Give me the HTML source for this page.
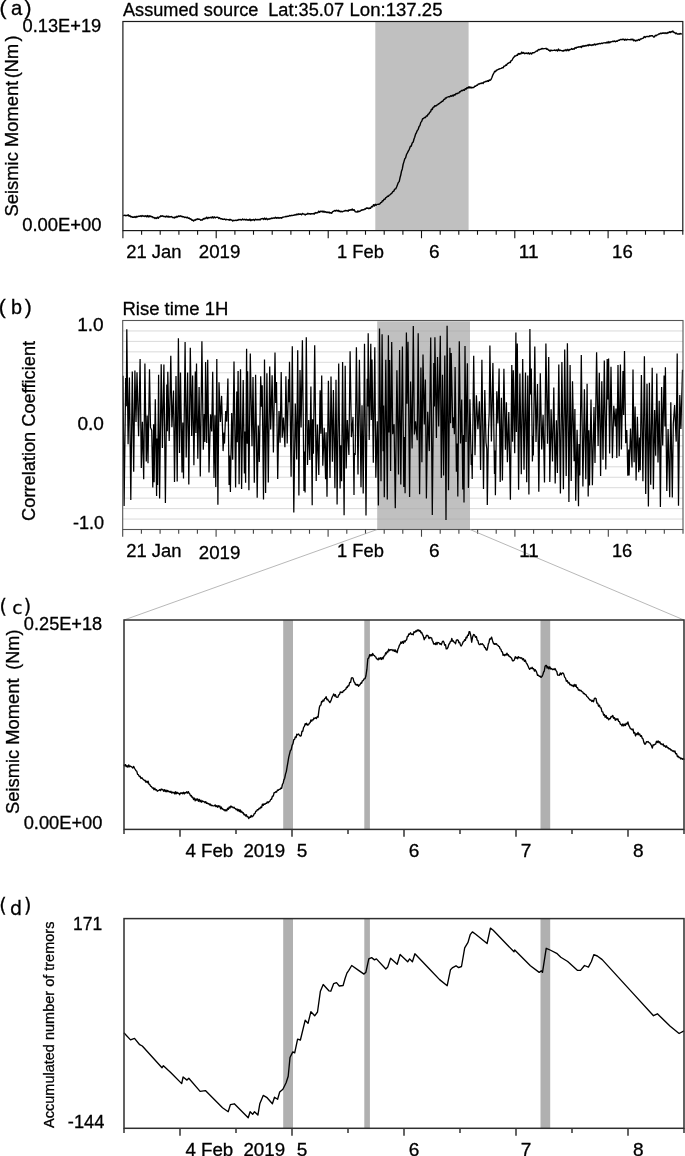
<!DOCTYPE html>
<html><head><meta charset="utf-8"><title>Seismic moment figure</title>
<style>
html,body{margin:0;padding:0;background:#fff;width:685px;height:1156px;overflow:hidden}
svg{display:block}
text{font-family:"Liberation Sans", Arial, sans-serif;fill:#000;stroke:#000;stroke-width:0.3px}
</style></head><body>
<svg width="685" height="1156" viewBox="0 0 685 1156">
<rect x="375.3" y="21.5" width="93.3" height="209.1" fill="#c0c0c0"/>
<path d="M123.1,215.4 L123.9,215.6 L124.8,215.2 L125.6,215.7 L126.5,215.5 L127.3,215.5 L128.2,214.7 L129.0,216.3 L129.9,215.5 L130.8,217.0 L131.6,216.5 L132.5,217.4 L133.3,217.0 L134.2,217.3 L135.0,216.5 L135.9,217.5 L136.8,216.3 L137.7,216.8 L138.5,216.1 L139.4,216.4 L140.3,215.8 L141.2,216.6 L142.1,215.5 L143.0,216.3 L143.9,215.8 L144.8,216.6 L145.7,215.7 L146.6,216.8 L147.4,215.5 L148.2,217.0 L149.1,215.7 L149.9,216.8 L150.7,215.9 L151.5,216.8 L152.4,216.8 L153.2,217.7 L154.1,217.4 L155.0,218.5 L155.8,217.7 L156.7,218.4 L157.5,217.2 L158.4,218.2 L159.2,216.9 L160.1,216.7 L160.9,215.7 L161.8,216.4 L162.7,215.8 L163.6,216.6 L164.5,216.4 L165.4,217.0 L166.3,216.1 L167.2,216.9 L168.1,216.1 L169.0,217.2 L169.9,216.5 L170.7,217.0 L171.6,216.5 L172.5,217.6 L173.3,217.4 L174.2,218.0 L175.0,216.9 L175.9,217.6 L176.8,216.3 L177.6,217.1 L178.5,215.9 L179.3,216.5 L180.2,215.8 L181.1,216.6 L182.0,216.2 L182.9,217.0 L183.8,216.7 L184.7,217.5 L185.6,217.1 L186.5,217.8 L187.4,217.2 L188.3,218.4 L189.2,218.0 L190.1,219.2 L190.9,218.8 L191.8,220.2 L192.7,220.0 L193.6,221.1 L194.4,219.9 L195.3,220.2 L196.1,219.3 L197.0,219.5 L197.8,218.7 L198.7,219.4 L199.7,219.1 L200.7,220.2 L201.7,219.8 L202.5,220.0 L203.3,218.5 L204.2,219.1 L205.0,218.1 L205.8,218.6 L206.7,217.2 L207.7,218.6 L208.6,217.4 L209.5,217.9 L210.4,217.3 L211.4,217.9 L212.3,216.7 L213.2,218.1 L214.1,216.8 L215.1,217.9 L216.0,217.2 L216.9,217.4 L217.8,217.2 L218.7,218.4 L219.5,217.7 L220.4,218.9 L221.3,218.6 L222.2,219.2 L223.1,219.0 L223.9,219.5 L224.8,218.9 L225.7,219.9 L226.6,219.3 L227.4,219.6 L228.3,219.6 L229.2,220.2 L230.0,219.2 L230.9,220.0 L231.8,219.9 L232.7,221.1 L233.5,220.3 L234.4,220.6 L235.3,220.2 L236.2,220.6 L237.1,220.0 L238.0,220.2 L239.0,219.4 L239.9,219.8 L240.8,219.5 L241.7,220.1 L242.6,219.0 L243.5,219.8 L244.4,219.3 L245.3,220.0 L246.2,219.2 L247.2,220.2 L248.1,219.7 L249.0,220.3 L249.9,219.1 L250.8,220.7 L251.7,219.7 L252.6,220.0 L253.6,219.5 L254.5,220.4 L255.4,219.2 L256.3,219.8 L257.2,219.5 L258.2,219.9 L259.1,219.3 L260.0,220.0 L261.1,218.7 L262.0,218.9 L262.9,218.4 L263.8,219.5 L264.6,218.1 L265.5,219.4 L266.4,218.3 L267.3,219.7 L268.2,218.8 L269.1,219.3 L270.0,218.4 L270.9,218.8 L271.8,217.9 L272.7,218.5 L273.6,217.9 L274.5,218.2 L275.4,217.3 L276.3,218.3 L277.2,217.5 L278.1,218.3 L278.9,217.5 L279.8,218.2 L280.7,217.7 L281.6,218.2 L282.5,217.2 L283.3,217.2 L284.2,216.9 L285.1,216.9 L286.0,216.3 L286.8,216.7 L287.7,216.1 L288.6,216.3 L289.6,215.5 L290.5,215.9 L291.4,215.3 L292.3,215.6 L293.3,215.2 L294.2,215.2 L295.1,214.5 L296.0,215.1 L297.0,214.0 L297.9,214.7 L298.8,213.8 L299.7,214.3 L300.6,214.0 L301.5,214.8 L302.5,213.4 L303.4,214.1 L304.3,214.1 L305.2,214.9 L306.1,214.1 L307.0,214.2 L307.9,213.3 L308.8,214.1 L309.7,213.6 L310.7,214.2 L311.6,213.6 L312.5,213.9 L313.4,213.5 L314.3,214.1 L315.2,212.6 L316.1,213.1 L317.0,212.6 L317.9,212.7 L318.7,211.2 L319.6,212.3 L320.5,211.2 L321.4,211.6 L322.2,211.1 L323.0,212.2 L323.9,211.1 L324.7,212.2 L325.5,211.7 L326.4,212.5 L327.2,211.9 L328.1,212.7 L329.0,211.9 L329.9,213.2 L330.7,212.6 L331.6,213.3 L332.6,211.6 L333.7,211.3 L334.7,210.4 L335.6,211.1 L336.4,210.2 L337.3,211.1 L338.2,210.3 L339.1,211.6 L339.9,210.9 L340.8,211.9 L341.7,211.3 L342.6,211.8 L343.5,211.1 L344.4,211.0 L345.4,210.5 L346.3,210.8 L347.2,210.5 L348.1,211.2 L349.0,209.8 L349.8,210.4 L350.6,209.7 L351.5,210.0 L352.3,209.0 L353.1,210.3 L354.1,209.7 L355.2,211.7 L356.2,211.9 L357.1,212.2 L357.9,210.9 L358.8,211.8 L359.6,211.1 L360.4,211.1 L361.3,210.0 L362.1,210.2 L363.0,209.7 L363.9,209.8 L364.7,208.9 L365.5,209.2 L366.4,207.9 L367.2,208.3 L368.0,207.9 L368.9,208.7 L369.7,208.0 L370.5,208.3 L371.5,206.5 L372.5,206.9 L373.5,204.7 L374.4,205.9 L375.2,204.3 L376.1,205.3 L376.9,204.4 L377.8,204.4 L378.6,204.2 L379.6,204.1 L380.7,202.7 L381.6,202.3 L382.4,200.8 L383.2,200.8 L384.1,199.2 L384.9,199.3 L385.8,197.7 L386.6,197.4 L387.5,196.1 L388.4,196.3 L389.2,195.2 L390.0,194.9 L390.9,193.9 L391.9,193.1 L392.8,191.7 L393.8,191.1 L394.7,189.1 L395.7,188.9 L396.6,187.0 L397.4,184.9 L398.3,182.6 L399.2,181.6 L400.0,177.8 L400.7,175.3 L401.5,171.2 L402.3,168.9 L403.1,164.5 L403.9,161.9 L404.8,158.8 L405.6,157.9 L406.5,154.5 L407.4,152.9 L408.4,150.9 L409.3,149.3 L410.3,146.5 L411.3,146.0 L412.2,143.0 L413.2,142.0 L414.0,139.0 L414.7,137.3 L415.5,134.4 L416.4,132.6 L417.3,130.5 L418.2,129.3 L419.1,126.5 L419.9,125.6 L420.8,122.4 L421.7,121.4 L422.6,118.7 L423.5,118.6 L424.4,117.4 L425.4,117.6 L426.3,116.0 L427.2,116.1 L428.0,114.4 L428.9,113.8 L429.7,112.3 L430.6,111.7 L431.4,109.3 L432.3,109.5 L433.1,107.3 L434.0,107.0 L434.9,105.6 L435.9,106.0 L436.8,105.2 L437.7,104.6 L438.6,103.9 L439.4,103.5 L440.3,102.7 L441.2,102.2 L442.1,101.2 L442.9,101.2 L443.8,99.5 L444.7,99.3 L445.5,97.9 L446.3,98.1 L447.1,97.1 L448.0,96.9 L448.9,96.6 L449.7,96.9 L450.6,95.8 L451.5,96.2 L452.4,95.2 L453.2,96.1 L454.1,94.5 L455.0,95.1 L456.0,93.5 L456.9,93.9 L457.8,93.1 L458.8,93.1 L459.7,91.7 L460.6,91.7 L461.5,90.4 L462.5,90.7 L463.4,89.8 L464.3,90.3 L465.3,88.6 L466.2,89.0 L467.2,87.5 L468.1,88.1 L469.0,86.7 L470.0,88.0 L470.9,87.0 L471.9,88.0 L472.8,87.4 L473.7,87.6 L474.7,86.3 L475.6,86.2 L476.6,85.2 L477.5,85.2 L478.4,83.9 L479.4,84.1 L480.3,83.3 L481.2,83.6 L482.1,82.8 L483.1,83.5 L484.0,81.9 L484.9,82.1 L485.9,81.2 L486.8,81.6 L487.6,80.7 L488.5,81.3 L489.3,79.9 L490.2,80.3 L491.0,79.5 L491.9,77.5 L492.9,74.8 L493.8,73.1 L494.7,71.3 L495.6,71.7 L496.4,70.2 L497.3,70.0 L498.3,69.4 L499.2,69.0 L500.2,68.6 L501.2,68.4 L502.1,67.7 L503.1,67.9 L504.0,66.2 L504.9,66.1 L505.8,65.0 L506.6,65.2 L507.5,63.5 L508.4,63.3 L509.3,62.4 L510.2,62.6 L511.1,60.6 L512.0,60.3 L513.0,58.2 L513.9,57.3 L514.8,55.9 L515.7,56.1 L516.5,55.1 L517.4,55.4 L518.3,53.6 L519.2,54.2 L520.0,53.4 L520.9,53.9 L521.8,52.1 L522.7,53.2 L523.5,52.5 L524.4,53.7 L525.3,53.1 L526.1,53.5 L527.0,52.9 L527.9,53.8 L528.7,52.8 L529.6,54.1 L530.6,53.1 L531.6,54.1 L532.5,52.7 L533.5,52.8 L534.5,52.5 L535.5,51.8 L536.4,50.9 L537.4,51.1 L538.3,49.5 L539.3,49.8 L540.3,49.2 L541.2,49.0 L542.2,48.5 L543.1,48.9 L544.1,48.6 L545.0,48.6 L546.0,48.3 L546.8,49.3 L547.6,49.0 L548.5,50.2 L549.3,50.3 L550.1,51.2 L551.0,50.0 L552.0,50.7 L552.9,50.4 L553.8,50.4 L554.8,50.0 L555.7,50.6 L556.6,49.9 L557.6,50.9 L558.5,49.1 L559.4,50.6 L560.3,50.1 L561.2,50.6 L562.1,50.7 L563.0,51.2 L564.0,50.2 L564.9,50.7 L565.9,49.6 L566.8,50.7 L567.8,49.3 L568.7,50.7 L569.7,49.5 L570.6,49.6 L571.5,48.6 L572.4,49.4 L573.3,48.8 L574.2,49.2 L575.1,47.6 L576.0,48.2 L576.9,47.1 L577.8,47.3 L578.7,46.8 L579.5,47.0 L580.4,46.5 L581.3,47.4 L582.2,45.9 L583.0,46.6 L583.9,45.6 L584.8,46.3 L585.7,45.5 L586.5,45.9 L587.4,45.0 L588.3,45.7 L589.1,44.4 L590.0,45.3 L590.9,44.8 L591.8,45.5 L592.6,44.8 L593.5,45.0 L594.4,44.1 L595.3,44.9 L596.1,44.1 L597.0,44.5 L597.9,43.7 L598.8,44.0 L599.7,43.4 L600.6,43.8 L601.6,43.1 L602.5,43.5 L603.4,42.9 L604.3,42.9 L605.2,42.6 L606.1,43.1 L607.1,42.1 L608.0,43.0 L608.9,41.6 L609.8,42.7 L610.8,41.8 L611.7,41.9 L612.6,41.2 L613.5,41.5 L614.5,41.0 L615.4,41.8 L616.3,41.0 L617.3,41.2 L618.3,40.2 L619.2,40.4 L620.2,39.4 L621.2,39.7 L622.1,39.3 L623.0,39.5 L623.9,39.2 L624.8,40.3 L625.7,39.3 L626.6,40.1 L627.5,39.3 L628.4,39.6 L629.3,39.6 L630.2,39.8 L631.1,39.2 L632.0,39.8 L632.9,39.2 L633.8,40.8 L634.7,39.9 L635.6,41.1 L636.6,40.3 L637.5,40.5 L638.5,39.5 L639.4,40.3 L640.4,39.0 L641.4,39.0 L642.3,38.4 L643.3,38.1 L644.2,36.6 L645.2,37.5 L646.1,36.5 L647.0,36.6 L647.9,36.3 L648.9,36.7 L649.8,35.8 L650.7,36.0 L651.6,35.7 L652.5,35.8 L653.7,37.1 L654.5,36.9 L655.3,35.3 L656.1,35.7 L657.0,34.9 L657.8,34.9 L658.7,33.9 L659.5,34.1 L660.4,33.2 L661.2,33.7 L662.1,33.0 L663.1,33.4 L664.0,32.7 L665.0,33.6 L665.9,32.7 L666.9,33.6 L667.8,32.5 L668.6,32.7 L669.5,31.8 L670.3,32.6 L671.2,31.5 L672.0,32.1 L672.9,31.0 L673.8,32.5 L674.7,32.5 L675.6,33.7 L676.5,33.1 L677.4,34.1 L678.3,33.8 L679.1,34.2 L680.0,33.4 L680.9,34.0 L681.8,33.7" fill="none" stroke="#000" stroke-width="1.4" stroke-linejoin="round"/>
<rect x="122.9" y="21.5" width="559.9" height="209.1" fill="none" stroke="#1a1a1a" stroke-width="1.2"/>
<path d="M122.9,230.6v7.6M141.6,230.6v4.2M160.2,230.6v4.2M178.9,230.6v4.2M197.6,230.6v4.2M216.2,230.6v7.6M234.9,230.6v4.2M253.5,230.6v4.2M272.2,230.6v4.2M290.9,230.6v4.2M309.5,230.6v4.2M328.2,230.6v7.6M346.9,230.6v4.2M365.5,230.6v4.2M384.2,230.6v4.2M402.9,230.6v4.2M421.5,230.6v7.6M440.2,230.6v4.2M458.8,230.6v4.2M477.5,230.6v4.2M496.2,230.6v4.2M514.8,230.6v7.6M533.5,230.6v4.2M552.2,230.6v4.2M570.8,230.6v4.2M589.5,230.6v4.2M608.1,230.6v7.6M626.8,230.6v4.2M645.5,230.6v4.2M664.1,230.6v4.2M682.8,230.6v4.2" stroke="#111" stroke-width="1.1" fill="none"/>
<rect x="377.2" y="321.3" width="92.8" height="208.2" fill="#c0c0c0"/>
<path d="M122.7,330.95H683.0M122.7,341.40H683.0M122.7,351.85H683.0M122.7,362.30H683.0M122.7,372.75H683.0M122.7,383.20H683.0M122.7,393.65H683.0M122.7,404.10H683.0M122.7,414.55H683.0M122.7,425.00H683.0M122.7,435.45H683.0M122.7,445.90H683.0M122.7,456.35H683.0M122.7,466.80H683.0M122.7,477.25H683.0M122.7,487.70H683.0M122.7,498.15H683.0M122.7,508.60H683.0M122.7,519.05H683.0" stroke="#a8a8a8" stroke-opacity="0.42" stroke-width="1" fill="none"/>
<path d="M123.0,375.7 L124.1,506.1 L125.7,378.0 L126.3,406.3 L126.8,329.3 L128.1,444.2 L129.4,377.6 L130.8,500.0 L132.3,371.4 L133.7,471.8 L134.9,370.6 L136.0,421.9 L137.0,372.3 L138.6,436.2 L140.1,359.1 L141.3,468.1 L142.4,421.7 L143.7,479.2 L144.9,363.5 L146.3,461.6 L147.2,415.6 L148.0,463.3 L149.5,369.2 L150.5,427.4 L151.7,430.2 L152.8,487.4 L153.6,424.3 L154.1,482.2 L155.3,399.2 L156.6,496.0 L157.0,438.4 L157.6,485.0 L158.6,374.7 L159.6,498.4 L161.2,364.3 L162.4,448.0 L163.9,364.5 L165.4,503.0 L166.8,384.6 L167.3,431.3 L167.8,371.7 L169.2,441.1 L170.8,355.7 L171.9,427.2 L173.5,390.5 L174.5,482.1 L176.0,375.9 L177.2,481.6 L178.4,338.2 L179.5,452.9 L180.5,372.6 L182.0,472.5 L182.8,422.4 L183.5,478.5 L185.1,341.9 L186.2,457.4 L187.6,372.6 L188.8,484.5 L190.3,347.8 L191.7,435.9 L192.6,375.4 L193.9,465.3 L195.3,371.4 L195.9,432.9 L196.5,363.5 L197.8,458.7 L199.1,387.0 L200.3,476.6 L201.9,341.2 L203.3,449.8 L204.3,414.1 L204.9,442.1 L205.6,362.1 L206.7,442.9 L207.7,359.7 L209.0,472.5 L210.5,414.4 L211.7,431.4 L212.7,371.8 L214.0,478.1 L214.9,415.2 L215.8,487.0 L216.8,359.0 L217.9,504.8 L219.0,382.2 L220.4,421.9 L221.6,395.9 L223.1,451.1 L224.0,432.6 L224.5,443.6 L225.7,411.0 L226.7,421.6 L227.9,378.6 L229.1,485.1 L229.6,455.5 L230.4,492.1 L231.7,412.9 L232.7,459.7 L234.0,361.6 L235.6,487.4 L236.8,391.6 L237.3,442.2 L238.1,371.0 L239.1,484.2 L240.5,369.2 L241.6,489.1 L243.2,380.1 L244.4,473.5 L244.9,431.5 L245.6,482.8 L246.6,348.8 L247.2,443.7 L247.6,371.2 L248.9,490.3 L250.3,353.5 L252.0,446.3 L253.0,376.9 L254.3,482.7 L255.6,374.8 L257.2,497.7 L258.3,425.4 L259.3,462.1 L260.7,376.2 L261.5,406.8 L262.2,385.2 L263.5,499.4 L264.5,359.6 L265.6,493.0 L266.9,373.3 L268.3,482.6 L269.7,366.5 L270.7,429.6 L272.1,375.2 L273.4,452.5 L275.0,352.4 L275.7,403.1 L276.5,382.0 L277.7,478.9 L279.0,411.1 L280.1,442.8 L281.2,371.9 L282.2,437.8 L283.4,417.6 L284.9,447.2 L285.9,376.3 L287.2,443.4 L288.5,379.2 L289.0,402.3 L289.5,361.7 L291.1,476.7 L292.3,346.2 L293.8,512.5 L295.3,403.4 L296.7,459.5 L297.7,350.3 L298.9,495.6 L300.0,369.9 L301.1,427.4 L302.4,340.2 L304.0,491.1 L304.6,451.6 L305.1,492.6 L306.3,337.2 L307.5,464.9 L308.7,420.1 L309.8,459.9 L310.9,386.6 L312.2,505.2 L312.6,419.3 L313.4,453.8 L314.7,345.2 L316.2,481.0 L317.4,424.6 L318.8,474.9 L320.1,390.3 L320.9,433.7 L321.7,375.4 L322.8,465.7 L324.2,427.7 L325.6,479.3 L326.1,432.3 L327.0,496.8 L328.4,380.7 L330.0,478.0 L331.0,376.6 L332.4,461.7 L333.4,389.9 L334.9,488.3 L336.0,379.7 L337.1,504.5 L338.7,363.6 L340.1,488.6 L340.7,445.2 L341.6,481.2 L342.6,362.0 L344.1,515.3 L345.2,365.7 L346.2,468.4 L347.3,420.0 L348.9,455.0 L350.1,351.2 L351.4,437.1 L353.0,416.9 L354.0,495.0 L354.4,453.1 L355.2,454.9 L356.4,347.2 L358.0,474.6 L359.4,359.7 L361.0,487.2 L362.0,405.2 L363.2,493.6 L364.5,343.7 L366.0,515.5 L367.2,378.7 L367.7,406.6 L368.2,333.3 L369.2,440.0 L370.8,343.7 L371.3,419.9 L372.0,359.6 L373.3,462.7 L374.8,347.2 L375.8,477.7 L377.3,421.2 L378.4,505.6 L379.5,328.6 L381.0,481.2 L382.1,334.2 L383.1,451.3 L383.6,405.5 L384.3,497.2 L385.8,359.8 L387.3,499.4 L388.4,335.3 L388.9,432.6 L389.6,360.0 L390.6,471.0 L391.7,342.1 L392.7,434.2 L394.1,424.2 L395.3,508.2 L396.9,370.2 L398.5,474.6 L399.6,350.0 L400.8,484.4 L402.4,346.5 L403.8,486.9 L404.5,437.0 L405.1,493.3 L406.4,332.4 L407.1,403.8 L408.0,341.7 L409.6,497.1 L410.6,381.5 L412.1,448.5 L413.3,326.0 L414.4,434.4 L415.6,421.2 L417.2,440.3 L418.2,333.3 L419.6,494.2 L420.9,367.5 L421.9,462.2 L423.0,354.6 L424.3,424.5 L425.4,379.4 L426.4,498.5 L427.7,411.8 L429.3,451.1 L430.7,337.4 L432.3,515.1 L433.8,362.9 L434.4,406.4 L434.9,337.2 L436.4,438.1 L437.5,357.1 L438.7,426.4 L440.3,335.7 L441.3,477.9 L442.5,374.8 L443.6,475.4 L444.8,355.4 L446.0,520.0 L447.1,325.7 L448.5,490.2 L449.9,347.8 L450.6,423.3 L451.2,353.1 L452.8,428.1 L453.8,417.2 L454.4,434.2 L455.1,367.0 L456.4,471.7 L457.3,443.6 L457.8,496.6 L459.3,341.2 L460.5,443.4 L461.7,399.6 L462.8,489.6 L463.5,435.1 L464.0,502.5 L465.0,346.0 L466.0,442.0 L467.4,363.3 L468.4,487.9 L469.9,399.3 L471.2,465.1 L471.7,454.3 L472.2,479.1 L473.7,355.7 L475.0,455.3 L476.4,395.2 L477.9,429.3 L479.4,401.3 L480.6,470.1 L481.9,359.7 L483.5,488.9 L484.8,389.9 L486.0,442.5 L486.8,448.8 L487.3,504.9 L488.5,429.2 L489.2,412.8 L489.9,345.6 L491.4,441.4 L492.9,362.9 L494.5,474.1 L495.0,450.5 L495.4,495.2 L496.8,391.3 L497.9,423.4 L499.1,368.4 L500.2,481.9 L501.4,397.7 L502.4,480.6 L503.9,368.8 L505.4,449.8 L506.4,402.3 L507.4,462.2 L508.8,412.1 L510.4,499.8 L511.8,365.0 L512.5,441.7 L513.3,370.3 L514.7,453.2 L515.9,332.4 L516.4,432.1 L517.3,343.5 L518.6,489.8 L519.9,373.6 L521.3,474.3 L522.7,358.9 L524.0,469.7 L525.5,372.6 L526.7,482.3 L527.8,375.5 L528.9,494.6 L529.9,329.1 L530.5,394.5 L531.3,368.5 L532.4,461.6 L532.9,436.1 L533.3,455.5 L534.8,346.6 L536.0,441.9 L537.5,384.0 L538.8,491.8 L540.3,373.2 L541.7,449.4 L543.1,414.9 L544.5,482.5 L545.9,343.5 L547.5,443.7 L548.7,357.1 L549.8,482.0 L551.1,409.2 L552.5,461.4 L553.8,387.6 L555.2,483.4 L556.4,420.2 L557.4,473.1 L558.8,364.4 L560.4,493.6 L561.9,361.9 L563.4,489.2 L564.7,349.4 L566.2,476.1 L567.4,343.2 L568.9,501.9 L570.1,365.0 L571.2,480.9 L572.5,381.2 L574.1,461.2 L574.9,409.0 L575.7,500.7 L577.1,429.8 L578.5,506.2 L579.0,444.1 L579.8,475.4 L581.3,355.1 L582.9,486.6 L584.4,389.3 L585.8,479.2 L587.1,383.7 L588.2,496.4 L588.8,430.3 L589.5,485.6 L591.0,399.5 L592.4,485.3 L594.0,406.9 L595.0,462.9 L596.6,352.3 L598.1,446.0 L599.3,372.8 L600.6,476.1 L601.8,381.2 L603.0,459.8 L604.3,360.4 L605.8,469.4 L607.2,358.9 L607.9,399.6 L608.6,358.4 L609.6,453.5 L611.0,366.8 L612.4,458.2 L613.8,405.8 L615.3,426.4 L616.0,408.6 L616.8,458.1 L618.0,365.1 L619.2,456.2 L620.4,364.5 L621.4,449.4 L623.0,371.0 L623.6,415.0 L624.5,351.0 L625.7,443.3 L626.8,430.1 L627.8,475.7 L628.7,449.6 L629.1,475.6 L630.5,428.4 L632.0,467.5 L633.0,369.4 L634.1,462.3 L635.1,406.4 L636.1,480.5 L637.4,416.8 L638.7,472.3 L639.5,437.4 L640.2,470.3 L641.4,375.1 L642.9,481.2 L644.4,356.2 L645.7,493.9 L647.0,383.8 L648.4,506.6 L649.4,382.8 L650.7,484.8 L652.2,367.7 L653.4,489.3 L654.6,410.0 L655.7,455.7 L656.8,373.6 L658.0,462.6 L659.2,400.7 L660.4,507.0 L661.6,386.9 L662.7,445.4 L664.1,375.6 L665.0,426.4 L665.4,367.2 L666.8,491.0 L668.1,429.0 L669.7,497.2 L670.8,402.2 L672.3,497.6 L673.3,423.6 L673.8,416.8 L674.6,405.0 L676.2,441.6 L677.2,353.4 L678.5,505.8 L679.8,394.9 L680.9,429.1 L682.5,369.8" fill="none" stroke="#000" stroke-width="1.25" stroke-linejoin="miter" stroke-miterlimit="2"/>
<rect x="122.7" y="320.5" width="560.3" height="209.0" fill="none" stroke="#555" stroke-width="1.1"/>
<path d="M122.7,529.5v7.3M141.4,529.5v4.2M160.1,529.5v4.2M178.7,529.5v4.2M197.4,529.5v4.2M216.1,529.5v7.3M234.8,529.5v4.2M253.4,529.5v4.2M272.1,529.5v4.2M290.8,529.5v4.2M309.5,529.5v4.2M328.1,529.5v7.3M346.8,529.5v4.2M365.5,529.5v4.2M384.2,529.5v4.2M402.8,529.5v4.2M421.5,529.5v7.3M440.2,529.5v4.2M458.9,529.5v4.2M477.6,529.5v4.2M496.2,529.5v4.2M514.9,529.5v7.3M533.6,529.5v4.2M552.3,529.5v4.2M570.9,529.5v4.2M589.6,529.5v4.2M608.3,529.5v7.3M627.0,529.5v4.2M645.6,529.5v4.2M664.3,529.5v4.2M683.0,529.5v4.2" stroke="#444" stroke-width="1.1" fill="none"/>
<path d="M377.2,529.5 L124,620 M470,529.5 L684,620" stroke="#999" stroke-width="0.7" fill="none"/>
<rect x="283.2" y="620.0" width="9.8" height="209.4" fill="#b0b0b0"/>
<rect x="364.3" y="620.0" width="5.6" height="209.4" fill="#b0b0b0"/>
<rect x="540.5" y="620.0" width="9.7" height="209.4" fill="#b0b0b0"/>
<path d="M123.9,764.7 L124.7,765.9 L125.5,764.6 L126.3,766.7 L127.1,765.7 L127.9,767.2 L128.7,764.9 L129.6,766.8 L130.4,766.1 L131.2,766.7 L132.0,767.1 L132.8,768.0 L133.7,766.4 L134.5,768.3 L135.3,769.5 L136.1,770.8 L136.8,771.3 L137.6,774.4 L138.4,774.7 L139.3,776.5 L140.1,776.3 L141.0,778.5 L141.9,777.7 L142.7,779.0 L143.6,779.6 L144.4,780.5 L145.1,780.3 L145.9,782.2 L146.6,781.3 L147.4,782.7 L148.1,781.1 L148.9,784.2 L149.8,784.6 L150.6,786.2 L151.5,786.7 L152.3,788.0 L153.2,787.8 L154.0,789.7 L154.8,788.2 L155.6,790.0 L156.4,789.6 L157.3,791.2 L158.1,790.7 L158.9,790.2 L159.7,789.6 L160.4,790.6 L161.2,789.0 L162.0,789.7 L162.8,789.5 L163.6,791.2 L164.4,789.7 L165.2,791.6 L166.0,790.0 L166.8,791.8 L167.7,790.5 L168.5,791.6 L169.3,791.4 L170.1,792.4 L170.9,791.3 L171.7,793.1 L172.5,792.1 L173.3,792.9 L174.1,792.2 L174.9,794.1 L175.7,791.6 L176.4,793.7 L177.2,792.4 L178.0,793.4 L178.8,793.2 L179.6,794.7 L180.4,792.9 L181.2,793.4 L182.0,792.7 L182.8,793.8 L183.6,792.3 L184.4,793.9 L185.1,792.5 L185.9,793.0 L186.7,791.8 L187.5,793.1 L188.3,791.6 L189.1,793.3 L189.8,794.0 L190.6,795.9 L191.3,795.5 L192.1,797.5 L192.8,797.2 L193.6,799.5 L194.4,798.1 L195.2,800.8 L196.0,798.9 L196.8,800.2 L197.6,798.9 L198.4,801.3 L199.3,799.4 L200.1,801.8 L200.9,800.2 L201.7,802.2 L202.5,800.9 L203.3,801.5 L204.1,801.6 L204.9,802.7 L205.7,801.6 L206.5,803.4 L207.3,803.0 L208.1,803.9 L208.8,803.5 L209.6,804.9 L210.4,804.1 L211.2,805.6 L212.0,805.3 L212.8,805.8 L213.6,805.8 L214.3,805.9 L215.1,804.9 L215.9,806.6 L216.7,805.8 L217.5,807.2 L218.2,805.6 L219.0,806.8 L219.8,806.0 L220.6,808.7 L221.3,807.0 L222.1,809.1 L222.8,808.8 L223.6,810.0 L224.3,809.6 L225.1,811.0 L225.9,809.7 L226.8,810.7 L227.6,808.3 L228.4,809.2 L229.2,807.0 L230.0,808.0 L230.9,806.0 L231.7,807.0 L232.5,807.0 L233.2,807.9 L234.0,807.2 L234.8,808.3 L235.5,808.6 L236.3,809.8 L237.1,808.9 L237.8,810.9 L238.6,809.5 L239.4,811.5 L240.1,809.8 L240.9,812.2 L241.7,811.3 L242.5,813.0 L243.2,812.6 L244.0,814.9 L244.8,814.3 L245.6,816.0 L246.4,814.8 L247.1,816.7 L247.9,816.6 L248.7,818.6 L249.5,817.1 L250.3,817.4 L251.1,815.4 L251.9,816.9 L252.7,816.1 L253.5,815.6 L254.3,813.6 L255.0,813.6 L255.8,811.1 L256.6,811.1 L257.4,809.7 L258.2,809.8 L259.1,808.3 L259.9,808.7 L260.7,807.0 L261.6,807.6 L262.4,804.2 L263.2,805.4 L264.0,803.8 L264.9,804.4 L265.7,803.4 L266.5,803.3 L267.3,801.9 L268.1,802.7 L269.0,801.7 L269.8,801.3 L270.7,799.5 L271.5,799.2 L272.4,796.2 L273.3,796.1 L274.1,792.6 L275.0,792.5 L275.8,791.7 L276.6,792.1 L277.5,790.0 L278.3,790.4 L279.1,789.4 L280.0,789.3 L280.8,788.0 L281.6,788.5 L282.4,784.5 L283.2,783.0 L283.9,779.9 L284.7,778.2 L285.5,774.1 L286.3,771.6 L287.1,766.9 L287.9,762.4 L288.7,757.4 L289.5,754.2 L290.4,750.5 L291.2,749.7 L292.1,745.4 L293.0,743.6 L293.8,739.7 L294.6,739.4 L295.3,737.0 L296.1,737.5 L296.8,734.2 L297.6,734.7 L298.5,733.9 L299.5,735.5 L300.4,736.1 L301.2,735.6 L302.0,731.2 L302.8,731.2 L303.6,727.4 L304.4,726.4 L305.2,723.6 L305.9,724.7 L306.6,723.3 L307.3,725.1 L308.0,725.0 L308.7,724.4 L309.4,723.2 L310.2,722.5 L310.9,719.9 L311.7,721.1 L312.4,719.8 L313.2,719.9 L313.9,718.0 L314.7,718.6 L315.6,717.6 L316.4,718.6 L317.2,716.7 L318.1,717.2 L318.8,711.3 L319.4,707.3 L320.1,705.4 L320.9,705.2 L321.6,701.5 L322.3,701.9 L323.1,700.0 L323.8,701.1 L324.6,698.6 L325.3,698.4 L326.1,696.7 L326.9,699.6 L327.6,699.1 L328.4,700.8 L329.1,701.3 L329.9,702.6 L330.7,701.2 L331.4,699.4 L332.2,697.0 L332.9,695.7 L333.7,693.9 L334.6,696.1 L335.4,694.7 L336.2,696.9 L337.1,697.3 L337.9,697.2 L338.7,694.9 L339.5,694.6 L340.3,691.9 L341.1,692.6 L341.9,692.2 L342.6,692.5 L343.4,690.7 L344.2,690.7 L345.0,689.7 L345.8,689.2 L346.5,687.2 L347.3,687.5 L348.0,685.7 L348.8,685.9 L349.7,682.5 L350.6,682.4 L351.4,678.2 L352.3,677.7 L353.1,678.3 L353.9,681.7 L354.7,682.5 L355.5,684.7 L356.3,684.4 L357.0,685.3 L357.8,684.4 L358.5,686.3 L359.3,685.1 L360.1,684.6 L360.8,682.9 L361.6,683.2 L362.3,681.0 L363.1,680.7 L364.0,679.0 L365.0,678.7 L365.9,676.0 L366.9,669.2 L367.8,659.0 L368.8,657.8 L369.7,654.6 L370.5,655.9 L371.2,654.5 L372.0,655.8 L372.7,653.5 L373.5,655.1 L374.3,655.5 L375.0,656.4 L375.8,657.1 L376.5,658.7 L377.3,659.0 L378.1,659.9 L378.9,658.0 L379.7,659.1 L380.6,657.7 L381.4,659.5 L382.2,657.5 L383.0,659.0 L383.9,656.3 L384.9,655.4 L385.7,652.8 L386.4,653.9 L387.2,651.5 L387.9,652.0 L388.7,649.2 L389.5,650.7 L390.3,649.7 L391.1,650.0 L392.0,649.5 L392.8,650.7 L393.6,649.9 L394.4,651.3 L395.1,649.8 L395.8,651.8 L396.5,651.1 L397.2,652.7 L397.9,649.2 L398.6,647.8 L399.4,645.2 L400.1,644.4 L400.9,642.0 L401.7,643.3 L402.5,641.5 L403.4,643.3 L404.2,640.8 L405.0,641.9 L405.8,640.3 L406.6,639.9 L407.3,636.5 L408.1,636.3 L408.8,634.0 L409.6,634.4 L410.5,632.8 L411.5,634.5 L412.4,634.0 L413.2,634.7 L414.0,631.8 L414.9,632.4 L415.7,630.9 L416.5,631.5 L417.2,629.9 L418.0,630.9 L418.7,629.9 L419.5,631.2 L420.2,630.6 L420.9,632.8 L421.6,632.3 L422.3,634.2 L423.2,635.8 L424.2,639.7 L424.9,637.6 L425.6,637.9 L426.4,635.5 L427.1,635.3 L428.1,635.9 L429.0,638.6 L429.9,637.3 L430.9,637.9 L431.6,638.0 L432.3,640.5 L433.0,641.7 L433.7,644.0 L434.5,643.6 L435.3,644.5 L436.1,642.4 L436.9,644.5 L437.7,642.5 L438.5,642.6 L439.2,643.0 L439.9,644.2 L440.6,643.6 L441.3,644.7 L442.2,642.1 L443.2,641.1 L444.0,642.3 L444.7,645.2 L445.5,644.6 L446.2,648.8 L447.0,648.8 L447.9,647.5 L448.9,644.1 L449.6,643.6 L450.4,641.4 L451.1,641.4 L451.8,638.5 L452.5,641.0 L453.3,640.8 L454.0,642.2 L454.8,642.5 L455.5,643.8 L456.4,640.2 L457.4,639.8 L458.2,640.3 L458.9,642.7 L459.7,642.5 L460.4,644.9 L461.2,646.0 L462.1,644.5 L463.1,641.9 L463.9,641.4 L464.6,639.7 L465.4,640.3 L466.1,637.1 L466.9,637.8 L467.6,635.2 L468.4,635.4 L469.1,631.7 L469.8,631.6 L470.8,635.9 L471.7,642.2 L472.6,637.0 L473.6,634.5 L474.5,634.9 L475.5,637.3 L476.4,636.6 L477.1,640.0 L477.9,640.6 L478.6,643.6 L479.3,644.5 L480.1,644.6 L480.8,643.7 L481.6,644.3 L482.3,643.7 L483.1,644.8 L483.9,645.5 L484.6,647.5 L485.4,647.7 L486.1,649.7 L486.9,650.2 L487.6,648.0 L488.3,644.1 L489.0,642.4 L489.7,639.0 L490.6,639.1 L491.6,637.1 L492.6,640.9 L493.5,643.4 L494.3,644.4 L495.0,643.5 L495.8,644.3 L496.5,643.7 L497.3,645.2 L498.0,645.3 L498.7,646.4 L499.4,646.7 L500.1,648.8 L500.9,649.3 L501.6,651.6 L502.4,651.9 L503.1,655.3 L503.9,654.5 L504.7,655.7 L505.4,654.4 L506.2,655.1 L506.9,653.1 L507.7,655.1 L508.4,654.8 L509.1,656.5 L509.9,656.5 L510.6,657.4 L511.5,658.0 L512.5,660.7 L513.4,660.7 L514.3,659.9 L515.3,656.7 L516.1,658.2 L516.8,657.3 L517.6,658.8 L518.3,656.6 L519.1,657.8 L520.0,657.4 L520.9,658.2 L521.7,657.8 L522.6,659.7 L523.5,658.7 L524.4,661.3 L525.2,660.1 L526.1,662.6 L527.0,663.9 L527.9,665.8 L528.8,667.8 L529.7,669.3 L530.5,668.0 L531.4,668.5 L532.1,667.3 L532.9,668.9 L533.6,668.6 L534.4,671.1 L535.1,669.6 L535.8,670.6 L536.6,672.1 L537.5,675.3 L538.4,675.1 L539.3,676.5 L540.1,676.1 L541.0,677.4 L541.9,676.6 L542.8,674.8 L543.6,672.0 L544.3,671.0 L545.1,666.2 L545.8,665.5 L546.5,665.4 L547.1,668.0 L548.0,666.7 L548.9,668.9 L549.8,666.8 L550.7,669.1 L551.5,668.4 L552.4,669.6 L553.3,669.0 L554.2,669.7 L555.0,668.5 L555.9,670.4 L556.8,671.7 L557.6,675.1 L558.5,675.1 L559.4,675.3 L560.3,673.0 L561.2,674.7 L562.0,673.1 L562.9,672.9 L563.8,674.1 L564.6,677.1 L565.5,678.1 L566.4,681.2 L567.3,680.6 L568.1,683.0 L569.0,682.4 L569.9,684.8 L570.8,684.5 L571.6,685.5 L572.5,685.3 L573.4,686.6 L574.2,684.5 L575.1,686.4 L575.9,684.6 L576.7,687.6 L577.6,687.7 L578.4,690.0 L579.2,689.8 L580.1,690.8 L580.9,690.3 L581.8,691.7 L582.6,691.8 L583.5,693.6 L584.3,693.4 L585.2,694.6 L586.0,694.7 L586.8,696.5 L587.6,697.0 L588.5,698.2 L589.3,699.1 L590.1,700.2 L591.0,700.0 L591.8,701.5 L592.6,700.4 L593.5,701.8 L594.4,698.3 L595.2,698.1 L596.0,698.5 L596.9,703.1 L597.7,703.2 L598.5,706.2 L599.4,705.2 L600.2,707.6 L601.1,707.9 L601.9,711.6 L602.8,711.8 L603.6,715.2 L604.4,714.4 L605.2,717.3 L606.1,715.6 L606.9,718.4 L607.7,717.7 L608.6,719.8 L609.4,718.7 L610.2,718.8 L611.1,716.5 L611.9,716.8 L612.8,715.5 L613.6,718.2 L614.5,717.7 L615.3,720.3 L616.1,718.8 L617.0,719.8 L617.8,718.8 L618.6,721.3 L619.5,721.6 L620.4,724.2 L621.2,724.5 L622.0,725.9 L622.9,723.9 L623.7,725.9 L624.6,724.2 L625.4,725.5 L626.2,723.3 L627.1,724.1 L627.9,722.0 L628.7,725.2 L629.6,726.8 L630.4,728.7 L631.3,729.0 L632.1,729.9 L633.0,728.9 L633.8,733.0 L634.7,732.5 L635.5,735.9 L636.3,733.8 L637.2,734.6 L638.0,732.4 L638.8,734.8 L639.7,733.9 L640.5,736.4 L641.4,735.6 L642.2,738.3 L643.0,738.9 L643.9,742.4 L644.7,744.1 L645.5,744.0 L646.4,741.7 L647.2,742.0 L648.0,741.5 L648.9,742.6 L649.7,742.8 L650.6,744.2 L651.4,745.5 L652.3,748.1 L653.1,744.8 L654.0,745.1 L654.8,744.3 L655.6,744.2 L656.5,741.3 L657.3,742.5 L658.1,740.9 L659.0,742.8 L659.8,741.7 L660.7,744.0 L661.5,743.8 L662.3,744.8 L663.2,743.9 L664.0,746.2 L664.9,745.8 L665.7,747.2 L666.5,745.9 L667.4,747.8 L668.2,747.6 L669.0,749.0 L669.9,748.5 L670.7,750.0 L671.5,749.8 L672.4,751.0 L673.2,750.8 L674.1,751.7 L674.9,751.0 L675.7,753.7 L676.6,753.7 L677.4,756.7 L678.2,756.1 L679.1,757.7 L680.0,757.5 L680.8,759.0 L681.6,758.3 L682.5,759.2 L683.4,758.4 L684.2,759.8" fill="none" stroke="#000" stroke-width="1.35" stroke-linejoin="round"/>
<rect x="124.0" y="620.0" width="560.0" height="209.4" fill="none" stroke="#2e2e2e" stroke-width="1.5"/>
<path d="M124.0,829.4v4.6M180.0,829.4v7.4M236.0,829.4v4.6M292.0,829.4v7.4M348.0,829.4v4.6M404.0,829.4v7.4M460.0,829.4v4.6M516.0,829.4v7.4M572.0,829.4v4.6M628.0,829.4v7.4M684.0,829.4v4.6" stroke="#333" stroke-width="1.5" fill="none"/>
<rect x="283.2" y="918.6" width="9.8" height="209.7" fill="#b0b0b0"/>
<rect x="364.3" y="918.6" width="5.6" height="209.7" fill="#b0b0b0"/>
<rect x="540.5" y="918.6" width="9.7" height="209.7" fill="#b0b0b0"/>
<path d="M123.9,1032.8 L130.5,1039.9 L134.5,1038.4 L139.7,1044.7 L142.3,1046.0 L162.0,1067.8 L163.4,1065.7 L171.2,1073.0 L181.7,1083.6 L183.1,1077.0 L187.0,1080.1 L188.8,1078.3 L200.1,1091.4 L205.4,1090.6 L222.5,1107.7 L228.2,1111.7 L230.4,1104.6 L234.3,1103.8 L248.2,1117.7 L250.1,1111.7 L252.7,1114.3 L254.5,1111.7 L257.9,1115.1 L259.8,1103.8 L263.2,1095.4 L267.1,1097.7 L272.4,1103.8 L274.5,1097.2 L277.6,1099.3 L279.7,1092.0 L282.9,1089.3 L286.1,1082.8 L288.2,1076.2 L290.0,1057.5 L292.8,1051.9 L294.7,1052.9 L297.6,1039.2 L300.4,1040.0 L305.2,1020.2 L308.0,1023.4 L310.9,1011.7 L314.7,1015.8 L317.5,1012.0 L320.4,991.2 L323.2,984.5 L328.9,990.8 L330.8,991.2 L333.7,983.6 L336.5,982.6 L339.3,986.0 L343.1,985.5 L345.0,978.8 L346.9,973.1 L348.8,970.3 L351.7,965.5 L359.3,970.9 L364.0,974.1 L365.9,972.2 L368.8,958.9 L371.6,957.6 L374.5,959.9 L376.4,958.9 L385.8,969.0 L387.7,967.1 L390.6,958.3 L397.2,964.2 L400.1,954.5 L407.7,961.8 L409.6,958.9 L412.4,961.8 L414.9,953.8 L429.7,969.3 L439.6,979.6 L447.2,985.7 L450.5,969.7 L452.7,967.6 L456.0,965.8 L458.6,967.6 L461.5,966.5 L464.7,947.8 L468.0,942.4 L470.2,934.7 L472.4,931.9 L475.7,934.3 L487.1,943.5 L490.4,928.1 L493.2,930.3 L514.0,951.8 L514.7,950.0 L530.4,965.8 L539.2,972.4 L541.4,970.8 L542.5,972.4 L546.2,948.3 L550.1,950.0 L556.7,953.3 L560.8,957.2 L567.7,961.5 L577.6,970.4 L580.5,970.4 L584.5,965.5 L588.4,967.1 L591.4,961.5 L593.8,954.6 L597.3,956.0 L602.2,959.6 L632.8,993.1 L653.5,1015.7 L657.4,1013.8 L659.4,1015.7 L670.2,1026.2 L679.1,1033.5 L684.0,1030.9" fill="none" stroke="#000" stroke-width="1.35" stroke-linejoin="round"/>
<rect x="124.0" y="918.6" width="560.0" height="209.7" fill="none" stroke="#2e2e2e" stroke-width="1.5"/>
<path d="M124.0,1128.3v4.6M180.0,1128.3v7.4M236.0,1128.3v4.6M292.0,1128.3v7.4M348.0,1128.3v4.6M404.0,1128.3v7.4M460.0,1128.3v4.6M516.0,1128.3v7.4M572.0,1128.3v4.6M628.0,1128.3v7.4M684.0,1128.3v4.6" stroke="#333" stroke-width="1.5" fill="none"/>
<text transform="matrix(1.0000 0 0 1 -0.56 15.20)" font-size="21.00">(</text>
<text transform="matrix(1.0000 0 0 1 10.89 15.20)" font-size="20.30">a</text>
<text transform="matrix(1.0000 0 0 1 24.49 15.20)" font-size="21.00">)</text>
<text transform="matrix(1.0000 0 0 1 -1.26 313.80)" font-size="21.00">(</text>
<text transform="matrix(1.0000 0 0 1 11.11 313.80)" font-size="19.80">b</text>
<text transform="matrix(1.0000 0 0 1 24.79 313.80)" font-size="21.00">)</text>
<text transform="matrix(1.0000 0 0 1 -0.61 613.20)" font-size="19.00" style="font-family:&quot;DejaVu Sans&quot;, sans-serif">(</text>
<text transform="matrix(1.0000 0 0 1 12.17 613.50)" font-size="18.50" style="font-family:&quot;DejaVu Sans&quot;, sans-serif">c</text>
<text transform="matrix(1.0000 0 0 1 23.68 613.20)" font-size="19.00" style="font-family:&quot;DejaVu Sans&quot;, sans-serif">)</text>
<text transform="matrix(1.0000 0 0 1 -0.71 912.30)" font-size="19.00" style="font-family:&quot;DejaVu Sans&quot;, sans-serif">(</text>
<text transform="matrix(1.0000 0 0 1 9.95 914.50)" font-size="19.00" style="font-family:&quot;DejaVu Sans&quot;, sans-serif">d</text>
<text transform="matrix(1.0000 0 0 1 23.88 912.30)" font-size="19.00" style="font-family:&quot;DejaVu Sans&quot;, sans-serif">)</text>
<text transform="matrix(1.0081 0 0 1 123.00 15.60)" font-size="18.00">Assumed</text>
<text transform="matrix(1.0106 0 0 1 203.85 15.60)" font-size="18.00">source</text>
<text transform="matrix(1.0107 0 0 1 268.24 15.60)" font-size="18.00">Lat:35.07</text>
<text transform="matrix(1.0326 0 0 1 349.51 15.60)" font-size="18.00">Lon:137.25</text>
<text transform="matrix(1.0150 0 0 1 22.57 31.70)" font-size="18.00">0.13E+19</text>
<text transform="matrix(1.0231 0 0 1 22.26 230.70)" font-size="18.00">0.00E+00</text>
<text transform="matrix(1.0227 0 0 1 126.28 258.20)" font-size="18.00">21 Jan</text>
<text transform="matrix(1.0407 0 0 1 198.76 258.40)" font-size="18.00">2019</text>
<text transform="matrix(1.0197 0 0 1 337.03 258.20)" font-size="18.00">1 Feb</text>
<text transform="matrix(1.0600 0 0 1 429.01 258.20)" font-size="18.00">6</text>
<text transform="matrix(1.0600 0 0 1 518.69 258.20)" font-size="18.00">11</text>
<text transform="matrix(1.0325 0 0 1 612.11 258.20)" font-size="18.00">16</text>
<text transform="matrix(0 -1 1.0400 0 18.40 216.42)" font-size="18.35">Seismic Moment</text>
<text transform="matrix(0 -1 1.0400 0 18.40 78.19)" font-size="18.18">(Nm</text>
<text transform="matrix(0 -1 1.0400 0 18.40 41.38)" font-size="18.20">)</text>
<text transform="matrix(1.0292 0 0 1 122.42 314.60)" font-size="18.00">Rise time 1H</text>
<text transform="matrix(1.0600 0 0 1 77.21 330.90)" font-size="18.00">1.0</text>
<text transform="matrix(1.0560 0 0 1 77.44 430.40)" font-size="18.00">0.0</text>
<text transform="matrix(1.0034 0 0 1 72.98 529.00)" font-size="18.00">-1.0</text>
<text transform="matrix(0 -1 1.0400 0 34.90 520.91)" font-size="18.24">Correlation Coefficient</text>
<text transform="matrix(1.0227 0 0 1 126.28 557.20)" font-size="18.00">21 Jan</text>
<text transform="matrix(1.0407 0 0 1 198.76 559.10)" font-size="18.00">2019</text>
<text transform="matrix(1.0197 0 0 1 337.03 557.20)" font-size="18.00">1 Feb</text>
<text transform="matrix(1.0600 0 0 1 429.01 557.20)" font-size="18.00">6</text>
<text transform="matrix(1.0440 0 0 1 519.30 557.20)" font-size="18.00">11</text>
<text transform="matrix(1.0157 0 0 1 611.94 557.20)" font-size="18.00">16</text>
<text transform="matrix(1.0100 0 0 1 23.87 630.40)" font-size="18.00">0.25E+18</text>
<text transform="matrix(1.0165 0 0 1 23.67 828.90)" font-size="18.00">0.00E+00</text>
<text transform="matrix(0 -1 1.0400 0 18.60 814.02)" font-size="18.35">Seismic Moment</text>
<text transform="matrix(0 -1 1.0400 0 18.60 669.67)" font-size="17.90">(Nm</text>
<text transform="matrix(0 -1 1.0400 0 18.60 635.58)" font-size="18.00">)</text>
<text transform="matrix(1.0397 0 0 1 185.43 856.70)" font-size="18.00">4 Feb</text>
<text transform="matrix(1.0407 0 0 1 243.46 856.70)" font-size="18.00">2019</text>
<text transform="matrix(1.0600 0 0 1 296.70 856.70)" font-size="18.00">5</text>
<text transform="matrix(1.0600 0 0 1 408.71 856.70)" font-size="18.00">6</text>
<text transform="matrix(1.0600 0 0 1 520.71 856.70)" font-size="18.00">7</text>
<text transform="matrix(1.0600 0 0 1 633.00 856.70)" font-size="18.00">8</text>
<text transform="matrix(0.9700 0 0 1 73.11 929.90)" font-size="18.00">171</text>
<text transform="matrix(1.0132 0 0 1 67.87 1127.90)" font-size="18.00">-144</text>
<text transform="matrix(0 -1 1.0000 0 53.80 1127.90)" font-size="14.50">Accumulated number of tremors</text>
<text transform="matrix(1.0397 0 0 1 185.43 1155.60)" font-size="18.00">4 Feb</text>
<text transform="matrix(1.0407 0 0 1 243.46 1155.60)" font-size="18.00">2019</text>
<text transform="matrix(1.0600 0 0 1 296.70 1155.60)" font-size="18.00">5</text>
<text transform="matrix(1.0600 0 0 1 408.71 1155.60)" font-size="18.00">6</text>
<text transform="matrix(1.0600 0 0 1 520.71 1155.60)" font-size="18.00">7</text>
<text transform="matrix(1.0600 0 0 1 633.00 1155.60)" font-size="18.00">8</text>
</svg>
</body></html>
